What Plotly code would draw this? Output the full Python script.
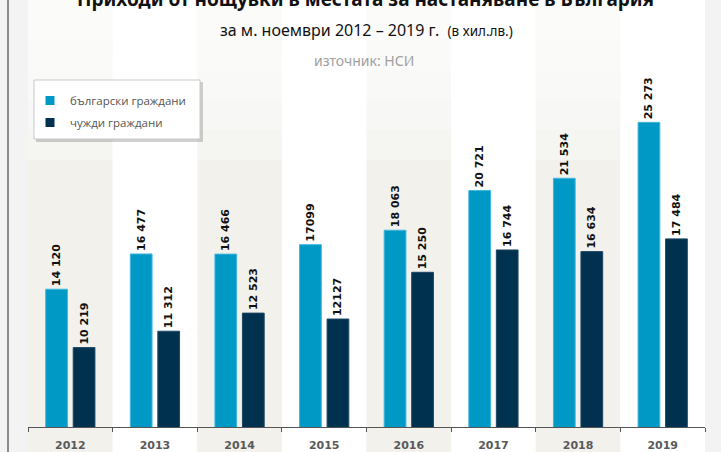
import plotly.graph_objects as go

years = ["2012", "2013", "2014", "2015", "2016", "2017", "2018", "2019"]
bg_values = [14120, 16477, 16466, 17099, 18063, 20721, 21534, 25273]
fg_values = [10219, 11312, 12523, 12127, 15250, 16744, 16634, 17484]
bg_labels = ["14 120", "16 477", "16 466", "17099", "18 063", "20 721", "21 534", "25 273"]
fg_labels = ["10 219", "11 312", "12 523", "12127", "15 250", "16 744", "16 634", "17 484"]
series_names = ["български граждани", "чужди граждани"]
title_text = "Приходи от нощувки в местата за настаняване в България"
subtitle_text = "за м. ноември 2012 – 2019 г.  <span style='font-size:13.5px'>(в хил.лв.)</span>"
source_text = "източник: НСИ"

C_LIGHT = "#0099c6"
C_DARK = "#00324f"

W, H = 721, 452
ML, MR, MT, MB = 28, 16, 60, 25
PW = W - ML - MR
PH = H - MT - MB

def px_x(px):
    return (px - ML) / PW

def px_y(py):
    return (H - MB - py) / PH

fig = go.Figure()

lbl_font = dict(family="DejaVu Sans", size=11, color="#111111", weight="bold")

fig.add_trace(go.Bar(
    x=years, y=bg_values, name=series_names[0], text=bg_labels,
    textposition="outside", textangle=-90, textfont=lbl_font, cliponaxis=False,
    constraintext="none",
    marker=dict(color=C_LIGHT, line=dict(color="#3fb6dc", width=1)),
    showlegend=False, hoverinfo="skip",
))
fig.add_trace(go.Bar(
    x=years, y=fg_values, name=series_names[1], text=fg_labels,
    textposition="outside", textangle=-90, textfont=lbl_font, cliponaxis=False,
    constraintext="none",
    marker=dict(color=C_DARK, line=dict(color="#1d4764", width=1)),
    showlegend=False, hoverinfo="skip",
))
# legend entries
for nm, col, grp in [(series_names[0], C_LIGHT, "a"), (series_names[1], C_DARK, "b")]:
    fig.add_trace(go.Scatter(
        x=[None], y=[None], mode="markers", name=nm, legendgroup=grp,
        marker=dict(symbol="square", size=9, color=col), hoverinfo="skip",
    ))

shapes = []
# alternating category bands
for i, yr in enumerate(years):
    shapes.append(dict(
        type="rect", xref="x", yref="paper", x0=i - 0.5, x1=i + 0.5,
        y0=px_y(H + 2), y1=px_y(-2), layer="below", line=dict(width=0),
        fillcolor="#f2f1ec" if i % 2 == 0 else "#ffffff",
    ))
# top fade
for yb in [40, 70, 100, 130, 160]:
    shapes.append(dict(
        type="rect", xref="paper", yref="paper", x0=px_x(ML), x1=px_x(W - MR),
        y0=px_y(yb), y1=px_y(-2), layer="below", line=dict(width=0),
        fillcolor="rgba(255,255,255,0.27)",
    ))
# legend box shadow + box
shapes.append(dict(
    type="rect", xref="paper", yref="paper", x0=px_x(36), x1=px_x(203),
    y0=px_y(142), y1=px_y(82), layer="below", line=dict(width=0),
    fillcolor="rgba(120,120,120,0.35)",
))
shapes.append(dict(
    type="rect", xref="paper", yref="paper", x0=px_x(34), x1=px_x(200),
    y0=px_y(139), y1=px_y(80), layer="below", line=dict(width=1, color="#c9c9c9"),
    fillcolor="#ffffff",
))
# left border line
shapes.append(dict(
    type="line", xref="paper", yref="paper", x0=px_x(8), x1=px_x(8),
    y0=px_y(H + 2), y1=px_y(-2), layer="above", line=dict(width=1.5, color="#6a6a6a"),
))

annotations = [
    dict(text=title_text, xref="paper", yref="paper", x=px_x(365), y=px_y(-1.5),
         xanchor="center", yanchor="middle", showarrow=False,
         font=dict(family="Noto Sans", size=19, color="#111111", weight="bold")),
    dict(text=subtitle_text, xref="paper", yref="paper", x=px_x(366), y=px_y(30),
         xanchor="center", yanchor="middle", showarrow=False,
         font=dict(family="Noto Sans", size=16, color="#111111")),
    dict(text=source_text, xref="paper", yref="paper", x=px_x(364), y=px_y(60),
         xanchor="center", yanchor="middle", showarrow=False,
         font=dict(family="Noto Sans", size=14, color="#a0a0a0")),
]

fig.update_layout(
    width=W, height=H,
    margin=dict(l=ML, r=MR, t=MT, b=MB, pad=0),
    paper_bgcolor="#f3f3f3",
    plot_bgcolor="#ffffff",
    barmode="group", bargap=0.35, bargroupgap=0.21,
    shapes=shapes, annotations=annotations,
    showlegend=True,
    legend=dict(
        x=px_x(30), y=px_y(86), xanchor="left", yanchor="top",
        bgcolor="rgba(0,0,0,0)", borderwidth=0,
        traceorder="grouped", tracegroupgap=3,
        font=dict(family="Open Sans", size=11.5, color="#555555"),
    ),
    xaxis=dict(
        type="category", showline=True, linecolor="#555555", linewidth=1,
        ticks="outside", tickson="boundaries", ticklen=4, tickcolor="#555555",
        showgrid=False, zeroline=False, ticklabelstandoff=8, automargin=False,
        tickfont=dict(family="DejaVu Sans", size=11, color="#5a5a5a", weight="bold"),
        fixedrange=True,
    ),
    yaxis=dict(visible=False, range=[4910, 4910 + PH / 0.01496], fixedrange=True,
               automargin=False),
    hovermode=False,
)

fig.write_html("out.html", config={"displayModeBar": False},
               post_script="document.body.style.margin='0';")
